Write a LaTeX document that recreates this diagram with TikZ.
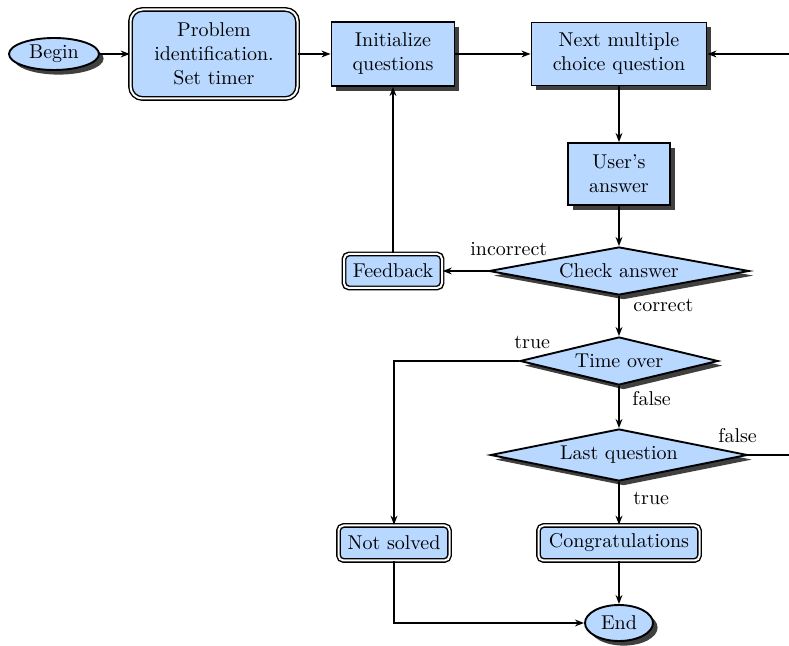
\documentclass[tikz,border=0pt]{standalone}
\usetikzlibrary{shapes.geometric,shadows,arrows.meta}

\definecolor{boxfill}{HTML}{B8D8FF}

\tikzset{
  x=0.5pt, y=-0.5pt,
  base/.style={draw=black, line width=0.95pt, fill=boxfill, align=center, inner sep=1pt},
  shade/.style={drop shadow={shadow xshift=2.3pt, shadow yshift=-2.3pt, fill=black!75, opacity=1}},
  terminal/.style={base, shade, ellipse},
  process/.style={base, shade, rectangle},
  decision/.style={base, shade, diamond, aspect=5},
  framed/.style={base, rectangle, rounded corners=2.5pt, line width=0.72pt,
                 double=white, double distance=1pt},
  arr/.style={line width=0.75pt, -{Stealth[length=4.5pt, width=3.4pt, inset=1.4pt]}},
  lbl/.style={inner sep=0pt, anchor=base west}
}

\begin{document}
\begin{tikzpicture}
\path[use as bounding box, clip] (0,0) rectangle (789,646);

% nodes
\node[terminal, minimum width=45pt, minimum height=16pt] (begin) at (54,54) {Begin};
\node[framed, rounded corners=6pt, minimum width=83.5pt, minimum height=44.5pt]
  (problem) at (214,54) {Problem\\identification.\\Set timer};
\node[process, minimum width=61.5pt, minimum height=32pt] (init) at (393,54) {Initialize\\questions};
\node[process, minimum width=87.5pt, minimum height=31.5pt] (next) at (619,54) {Next multiple\\choice question};
\node[process, minimum width=51pt, minimum height=31pt] (answer) at (619,174) {User's\\answer};
\node[decision, minimum width=130pt, minimum height=24pt] (check) at (619,271) {Check answer};
\node[framed, minimum width=49pt, minimum height=17pt] (feedback) at (393,271) {Feedback};
\node[decision, minimum width=99pt, minimum height=24pt] (timeover) at (619,361) {Time over};
\node[decision, minimum width=128.5pt, minimum height=26pt] (last) at (619,455) {Last question};
\node[framed, minimum width=55.5pt, minimum height=17.5pt] (notsolved) at (394,543) {Not solved};
\node[framed, minimum width=80.5pt, minimum height=17.5pt] (congrats) at (619,543) {Congratulations};
\node[terminal, minimum width=34pt, minimum height=18pt] (end) at (619,623) {End};

% loop back from the last question to the next question
\coordinate (loop) at (840,455);

% connectors
\draw[arr] (begin) -- (problem);
\draw[arr] (problem) -- (init);
\draw[arr] (init) -- (next);
\draw[arr] (next) -- (answer);
\draw[arr] (answer) -- (check);
\draw[arr] (check) -- (feedback);
\draw[arr] (feedback) -- (init);
\draw[arr] (check) -- (timeover);
\draw[arr] (timeover.west) -| (notsolved.north);
\draw[arr] (timeover) -- (last);
\draw[arr] (last.east) -- (loop) |- (next.east);
\draw[arr] (last) -- (congrats);
\draw[arr] (congrats) -- (end);
\draw[arr] (notsolved.south) |- (end.west);

% connector labels
\node[lbl] (lincorrect) at (470,256) {incorrect};
\node[lbl] (lcorrect) at (633,312) {correct};
\node[lbl] (ltrueup) at (514,349) {true};
\node[lbl] (lfalsedown) at (632,406) {false};
\node[lbl] (lfalseright) at (718,443) {false};
\node[lbl] (ltruedown) at (633,505) {true};
\end{tikzpicture}
\end{document}
